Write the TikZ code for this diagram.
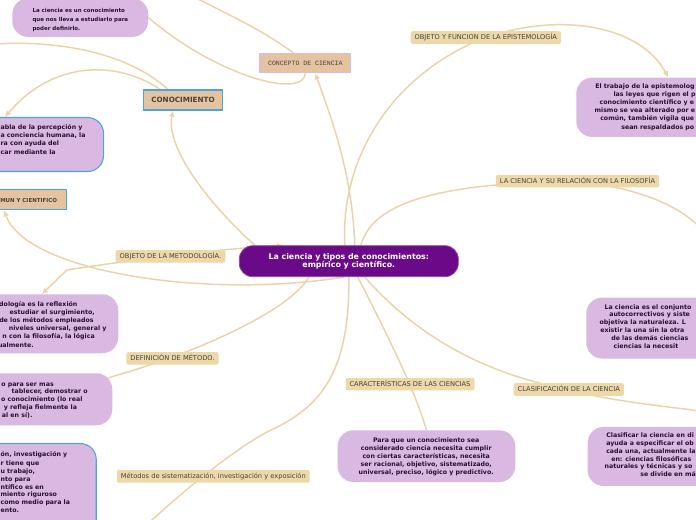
\documentclass[tikz,border=0pt]{standalone}
\usepackage{fontspec}
\setmainfont{DejaVu Sans}
\setmonofont{Liberation Mono}
\usetikzlibrary{arrows.meta,backgrounds,calc}
\definecolor{MapPurple}{RGB}{217,185,226}
\definecolor{MapCentre}{RGB}{107,10,136}
\definecolor{MapLabel}{RGB}{236,216,168}
\definecolor{MapTan}{RGB}{227,195,160}
\definecolor{MapBlue}{RGB}{77,163,222}
\definecolor{MapLink}{RGB}{233,212,168}
\definecolor{MapInk}{RGB}{40,16,48}
\definecolor{MapGrey}{RGB}{72,66,58}
\definecolor{ConceptEdge}{RGB}{218,186,228}

\begin{document}
\begin{tikzpicture}[x=0.75pt,y=-0.75pt,>={Latex[length=4.5pt,width=4.5pt]},
    link/.style={draw=MapLink,line width=1.1pt},
    bubble/.style={fill=MapPurple,rounded corners=12pt,anchor=north west,inner sep=0pt},
    topic/.style={fill=MapLabel,rounded corners=1.5pt,font=\fontsize{5}{6}\selectfont,text=MapGrey,inner xsep=3pt,inner ysep=0pt,minimum height=9.4pt,text height=3.7pt,text depth=0pt},
    tanbox/.style={fill=MapTan,draw=MapBlue,line width=0.9pt,inner sep=0pt,minimum height=15pt},
    bubtext/.style={font=\fontsize{4.7}{6}\selectfont\bfseries,text=MapInk,inner sep=0pt}]
  \useasboundingbox (0,0) rectangle (696,520);
  \clip (0,0) rectangle (696,520);

  \node[fill=MapCentre,draw=MapCentre!75!white,line width=0.6pt,rounded corners=10pt,minimum width=164.25pt,minimum height=23.25pt,inner sep=0pt,align=center,text=white,font=\fontsize{5.9}{6.5}\selectfont\bfseries] (centre) at (348.8,261.2) {La ciencia y tipos de conocimientos:\\empírico y científico.};

  \node[fill=MapTan,draw=ConceptEdge,line width=1pt,minimum width=68pt,minimum height=14.5pt,inner sep=0pt,font=\ttfamily\fontsize{4.9}{6}\selectfont,text=MapGrey] (concept) at (305.35,63) {CONCEPTO DE CIENCIA};
  \node[tanbox,minimum width=59.5pt,font=\bfseries\fontsize{5.4}{6}\selectfont,text=MapGrey] (conoc) at (183,100) {CONOCIMIENTO};
  \node[tanbox,minimum width=94.5pt,anchor=north west] (munBox) at (-60,189.3) {};
  \node[font=\bfseries\fontsize{4.1}{5}\selectfont,text=MapGrey,anchor=base east,inner sep=0pt] (munText) at (57.3,202.6) {MUN Y CIENTIFICO};

  \node[topic] (lblEpi) at (485.8,37.5) {OBJETO Y FUNCION DE LA EPISTEMOLOGÍA};
  \node[topic] (lblPhil) at (577.5,181.2) {LA CIENCIA Y SU RELACIÓN CON LA FILOSOFÍA};
  \node[topic] (lblMeth) at (170.5,256.3) {OBJETO DE LA METODOLOGÍA.};
  \node[topic] (lblDef) at (172.5,358.3) {DEFINICIÓN DE MÉTODO.};
  \node[topic] (lblChar) at (410,384.2) {CARACTERÍSTICAS DE LAS CIENCIAS};
  \node[topic] (lblClass) at (568.8,389.5) {CLASIFICACIÓN DE LA CIENCIA};
  \node[topic] (lblSys) at (213.3,476.3) {Métodos de sistematización, investigación y exposición};

  \node[bubble,minimum width=102pt,minimum height=29pt] (topBox) at (12,-2) {};
  \node[bubble,draw=MapBlue,line width=0.8pt,minimum width=137.25pt,minimum height=40.5pt] (percBox) at (-80,117) {};
  \node[bubble,minimum width=148.5pt,minimum height=44.25pt] (metBox) at (-80,294) {};
  \node[bubble,minimum width=144pt,minimum height=39pt] (defBox) at (-80,373) {};
  \node[bubble,draw=MapBlue,line width=0.8pt,minimum width=131.8pt,minimum height=192.75pt] (sysBox) at (-80,443) {};
  \node[bubble,minimum width=138pt,minimum height=44.55pt] (epiBox) at (576,77.3) {};
  \node[bubble,minimum width=175.5pt,minimum height=45.75pt] (philBox) at (586,297.3) {};
  \node[bubble,minimum width=133.3pt,minimum height=38.8pt] (charBox) at (337.3,430) {};
  \node[bubble,minimum width=174.5pt,minimum height=44.25pt] (classBox) at (587.3,426.7) {};

  \node[bubtext,font=\fontsize{4.1}{6.5}\selectfont\bfseries,align=left,anchor=west] (topText) at (32.3,20) {La ciencia es un conocimiento\\que nos lleva a estudiarlo para\\poder definirlo.};
  \node[bubtext,align=center] (charText) at (426.2,456.6) {Para que un conocimiento sea\\considerado ciencia necesita cumplir\\con ciertas características, necesita\\ser racional, objetivo, sistematizado,\\universal, preciso, lógico y predictivo.};

  \foreach \lnx/\lny/\lnt [count=\i] in {0.3/129.3/{abla de la percepción y}, 0.3/138/{a conciencia humana, la}, 0.3/146/{ra con ayuda del}, 0.3/154.7/{car mediante la}}
    \node[bubtext,anchor=base west] (perc-\i) at (\lnx,\lny) {\lnt};
  \foreach \lnx/\lny/\lnt [count=\i] in {77.7/306.3/{dología es la reflexión}, 95/314.3/{estudiar el surgimiento,}, 94/322.3/{de los métodos empleados}, 106.7/330.7/{niveles universal, general y}, 95/339/{n con la filosofía, la lógica}, 34/347/{ualmente.}}
    \node[bubtext,anchor=base east] (met-\i) at (\lnx,\lny) {\lnt};
  \foreach \lnx/\lny/\lnt [count=\i] in {54/386/{o para ser mas}, 88/393.7/{tablecer, demostrar o}, 82.7/401.3/{o conocimiento (lo real}, 77.3/409.3/{y refleja fielmente la}, 32.7/417.3/{al en sí).}}
    \node[bubtext,anchor=base east] (def-\i) at (\lnx,\lny) {\lnt};
  \foreach \lnx/\lny/\lnt [count=\i] in {0.3/456/{ón, investigación y}, 0.3/465.3/{r tiene que}, 0.3/473.7/{u trabajo,}, 0.3/481.3/{nto para}, 0.3/489/{ntífico es en}, 0.3/496.7/{miento riguroso}, 0.3/504.7/{como medio para la}, 0.3/512.3/{ento.}}
    \node[bubtext,anchor=base west] (sys-\i) at (\lnx,\lny) {\lnt};
  \foreach \lnx/\lny/\lnt [count=\i] in {595/88.7/{El trabajo de la epistemolog}, 613.3/96.7/{las leyes que rigen el p}, 599.3/104.7/{conocimiento científico y e}, 594.3/112.7/{mismo se vea alterado por e}, 600/121/{común, también vigila que}, 621/129.3/{sean respaldados po}}
    \node[bubtext,anchor=base west] (epi-\i) at (\lnx,\lny) {\lnt};
  \foreach \lnx/\lny/\lnt [count=\i] in {604.3/309.3/{La ciencia es el conjunto}, 609/316.7/{autocorrectivos y siste}, 599.3/324.7/{objetiva la naturaleza. L}, 600/332/{existir la una sin la otra}, 611/340.3/{de las demás ciencias}, 613.3/348/{ciencias la necesit}}
    \node[bubtext,anchor=base west] (phil-\i) at (\lnx,\lny) {\lnt};
  \foreach \lnx/\lny/\lnt [count=\i] in {606/437.7/{Clasificar la ciencia en di}, 606/445.3/{ayuda a especificar el ob}, 606/453.3/{cada una, actualmente la}, 611/461.3/{en: ciencias filosóficas}, 604.3/468.7/{naturales y técnicas y so}, 640/476.3/{se divide en má}}
    \node[bubtext,anchor=base west] (class-\i) at (\lnx,\lny) {\lnt};

  \coordinate (conceptUp) at (160,-20);
  \coordinate (conocLeft) at (-30,46);

  \begin{scope}[on background layer]
    \clip (0,0) rectangle (696,520);
    \fill[white] (0,0) rectangle (696,520);
    \draw[link,->] ($(centre.north)+(-4,0)$) .. controls (340,150) and (400,70) .. (lblEpi.center) .. controls (560,12) and (640,25) .. (epiBox.north);
    \draw[link,->] ($(centre.north)+(6,0)$) .. controls (352,170) and (330,115) .. ($(concept.south)+(10,0)$);
    \draw[link] (concept.south) .. controls (303,100) and (215,75) .. (topBox.east);
    \draw[link] ($(concept.north)+(-12,0)$) .. controls (260,30) .. (conceptUp);
    \draw[link,->] ($(centre.north west)+(16,0)$) .. controls (215,210) and (165,150) .. ($(conoc.south)+(-10,0)$);
    \draw[link,->] ($(conoc.north)+(-23,0)$) .. controls (120,62) and (55,58) .. ($(percBox.north west)+(85,0)$);
    \draw[link] ($(conoc.north)+(-15,0)$) .. controls (130,55) and (60,36) .. (conocLeft);
    \draw[link,->] ($(centre.south)+(-5,0)$) .. controls (200,300) and (25,270) .. ($(munBox.south east)+(-63,0)$);
    \draw[link,<->] ($(centre.north west)+(44,0)$) .. controls (230,248) and (130,260) .. (67,270) -- ($(metBox.north west)+(122,0)$);
    \draw[link] ($(centre.south west)+(70,0)$) .. controls (290,310) and (200,352) .. ($(defBox.north east)+(-5,5)$);
    \draw[link] (centre.south) .. controls (350,380) and (315,410) .. (267,432) .. controls (225,455) and (165,505) .. (sysBox.east);
    \draw[link] ($(centre.south)+(9,0)$) .. controls (385,330) and (415,390) .. (charBox.north);
    \draw[link] ($(centre.south)+(16,0)$) .. controls (420,340) and (490,375) .. (lblClass.center) .. controls (640,410) and (760,410) .. (classBox);
    \draw[link] ($(centre.north)+(12,0)$) .. controls (372,205) and (430,183) .. (lblPhil.center) .. controls (640,188) and (740,215) .. (philBox);
  \end{scope}
\end{tikzpicture}
\end{document}
